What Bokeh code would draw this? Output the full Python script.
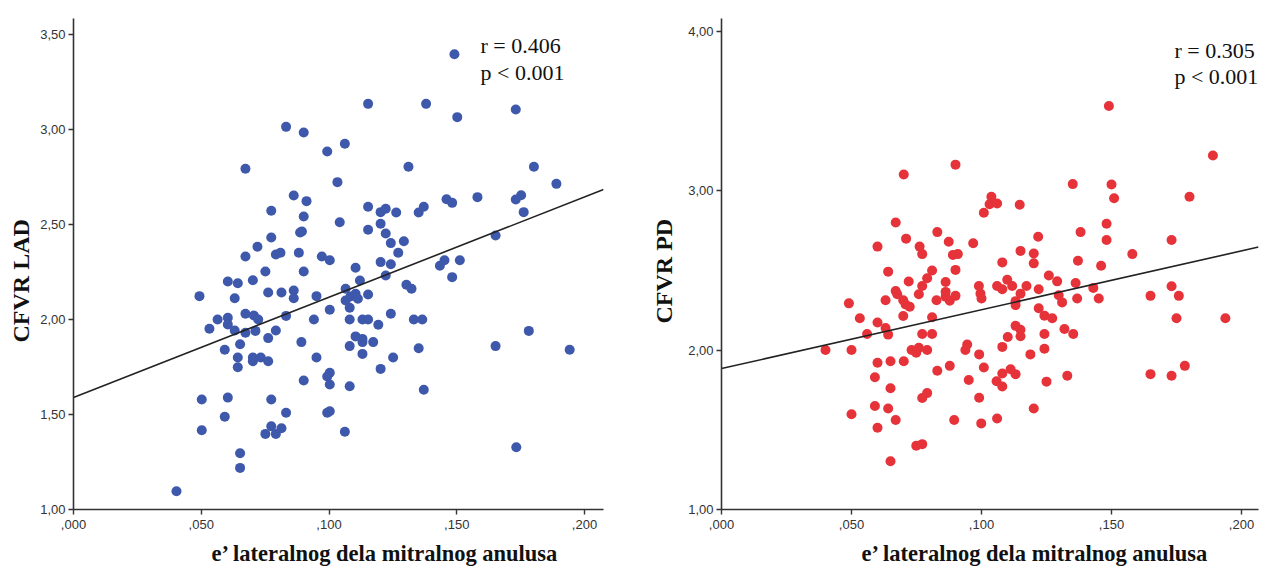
import math
from bokeh.plotting import figure
from bokeh.layouts import row, column
from bokeh.models import Range1d, FixedTicker, CustomJSTickFormatter, Label, Title
from bokeh.core.properties import value
from bokeh.embed import file_html
from bokeh.resources import INLINE

# ---------------- data ----------------
lad_x = [0.0832, 0.0901, 0.0673, 0.0862, 0.0912, 0.0774, 0.0901, 0.0774, 0.0887, 0.0894,
         0.0720, 0.0673, 0.0792, 0.0810, 0.0882, 0.0972, 0.0751, 0.0901, 0.0604, 0.0643,
         0.0702, 0.0493, 0.0631, 0.0762, 0.0814, 0.0862, 0.0862, 0.0951, 0.0564, 0.0604,
         0.0604, 0.0532, 0.0673, 0.0706, 0.0723, 0.0631, 0.0673, 0.0712, 0.0832, 0.0941,
         0.0792, 0.0762, 0.0652, 0.0892, 0.0592, 0.0643, 0.0643, 0.0702, 0.0702, 0.0733,
         0.0762, 0.0951, 0.0901, 0.0502, 0.0604, 0.0774, 0.0592, 0.0832, 0.0502, 0.0751,
         0.0774, 0.0792, 0.0814, 0.0652, 0.0652, 0.0403, 0.1491, 0.1153, 0.1380, 0.1731,
         0.1502, 0.0993, 0.1062, 0.1311, 0.1802, 0.1033, 0.1890, 0.1153, 0.1202, 0.1222,
         0.1263, 0.1351, 0.1371, 0.1460, 0.1482, 0.1581, 0.1731, 0.1752, 0.1762, 0.1042,
         0.1202, 0.1153, 0.1222, 0.1242, 0.1293, 0.1271, 0.1652, 0.1003, 0.1104, 0.1202,
         0.1242, 0.1121, 0.1222, 0.1434, 0.1452, 0.1512, 0.1482, 0.1065, 0.1303, 0.1323,
         0.1065, 0.1084, 0.1104, 0.1113, 0.1153, 0.1081, 0.1003, 0.1081, 0.1131, 0.1153,
         0.1193, 0.1242, 0.1332, 0.1365, 0.1104, 0.1131, 0.1131, 0.1173, 0.1081, 0.1131,
         0.1251, 0.1351, 0.1202, 0.1003, 0.0993, 0.1003, 0.1081, 0.1371, 0.0993, 0.1003,
         0.1062, 0.1652, 0.1782, 0.1942, 0.1733]
lad_y = [3.014, 2.984, 2.793, 2.653, 2.623, 2.572, 2.542, 2.432, 2.458, 2.463,
         2.383, 2.332, 2.342, 2.351, 2.351, 2.332, 2.253, 2.253, 2.200, 2.191,
         2.207, 2.123, 2.112, 2.142, 2.142, 2.153, 2.112, 2.123, 2.000, 2.009,
         1.974, 1.951, 2.030, 2.021, 2.000, 1.942, 1.930, 1.940, 2.019, 2.000,
         1.942, 1.902, 1.870, 1.881, 1.841, 1.800, 1.749, 1.800, 1.780, 1.800,
         1.780, 1.800, 1.679, 1.579, 1.589, 1.579, 1.488, 1.509, 1.417, 1.398,
         1.438, 1.398, 1.428, 1.296, 1.219, 1.096, 3.396, 3.135, 3.135, 3.105,
         3.065, 2.884, 2.925, 2.804, 2.804, 2.723, 2.714, 2.593, 2.565, 2.583,
         2.563, 2.563, 2.593, 2.633, 2.614, 2.644, 2.632, 2.654, 2.565, 2.512,
         2.504, 2.472, 2.453, 2.402, 2.412, 2.351, 2.442, 2.312, 2.272, 2.302,
         2.291, 2.205, 2.232, 2.283, 2.312, 2.312, 2.223, 2.162, 2.183, 2.162,
         2.100, 2.121, 2.135, 2.109, 2.132, 2.062, 2.051, 2.000, 2.000, 2.000,
         1.972, 2.030, 2.000, 2.000, 1.911, 1.898, 1.881, 1.881, 1.860, 1.819,
         1.800, 1.849, 1.740, 1.720, 1.700, 1.658, 1.649, 1.630, 1.509, 1.517,
         1.409, 1.860, 1.940, 1.841, 1.328]

pd_x = [0.0701, 0.0670, 0.0830, 0.0710, 0.0874, 0.0600, 0.0762, 0.0772, 0.0890, 0.0909,
        0.0641, 0.0810, 0.0791, 0.0720, 0.0862, 0.0670, 0.0676, 0.0772, 0.0759, 0.0631,
        0.0699, 0.0708, 0.0724, 0.0490, 0.0827, 0.0862, 0.0862, 0.0878, 0.0532, 0.0699,
        0.0810, 0.0600, 0.0631, 0.0641, 0.0560, 0.0772, 0.0810, 0.0400, 0.0500, 0.0731,
        0.0749, 0.0759, 0.0791, 0.0600, 0.0650, 0.0701, 0.0830, 0.0878, 0.0590, 0.0650,
        0.0772, 0.0791, 0.0590, 0.0641, 0.0500, 0.0670, 0.0600, 0.0749, 0.0772, 0.0650,
        0.0895, 0.1490, 0.1890, 0.0900, 0.1351, 0.1500, 0.1510, 0.1800, 0.1038, 0.1031,
        0.1060, 0.1009, 0.1147, 0.1481, 0.1381, 0.1218, 0.1481, 0.1731, 0.0968, 0.1150,
        0.1201, 0.1201, 0.1080, 0.1371, 0.1460, 0.1580, 0.0900, 0.1259, 0.1291, 0.1362,
        0.1099, 0.1731, 0.0900, 0.0990, 0.0996, 0.1000, 0.1060, 0.1080, 0.1118, 0.1150,
        0.1131, 0.1131, 0.1173, 0.1220, 0.1220, 0.1297, 0.1310, 0.1242, 0.1272, 0.1368,
        0.1430, 0.1451, 0.1650, 0.1759, 0.1750, 0.1938, 0.1131, 0.1150, 0.1150, 0.1101,
        0.1242, 0.1319, 0.1353, 0.0945, 0.0938, 0.0991, 0.1080, 0.1188, 0.1242, 0.1009,
        0.0951, 0.1058, 0.1080, 0.1080, 0.1112, 0.1131, 0.1250, 0.1330, 0.1650, 0.1731,
        0.1782, 0.0991, 0.1201, 0.0999, 0.1060]
pd_y = [3.101, 2.800, 2.740, 2.699, 2.680, 2.649, 2.649, 2.602, 2.597, 2.602,
        2.492, 2.499, 2.451, 2.430, 2.427, 2.371, 2.350, 2.402, 2.350, 2.313,
        2.313, 2.286, 2.272, 2.293, 2.313, 2.365, 2.334, 2.309, 2.200, 2.214,
        2.206, 2.173, 2.138, 2.097, 2.101, 2.101, 2.101, 2.000, 2.000, 2.000,
        1.983, 2.014, 2.000, 1.921, 1.930, 1.930, 1.870, 1.901, 1.829, 1.761,
        1.699, 1.730, 1.649, 1.633, 1.598, 1.561, 1.513, 1.400, 1.410, 1.303,
        1.561, 3.531, 3.220, 3.163, 3.041, 3.039, 2.952, 2.962, 2.962, 2.915,
        2.919, 2.861, 2.911, 2.792, 2.740, 2.711, 2.690, 2.690, 2.670, 2.622,
        2.606, 2.544, 2.550, 2.560, 2.529, 2.602, 2.503, 2.468, 2.431, 2.421,
        2.441, 2.400, 2.340, 2.402, 2.354, 2.323, 2.402, 2.381, 2.402, 2.354,
        2.307, 2.282, 2.402, 2.381, 2.262, 2.344, 2.299, 2.216, 2.200, 2.323,
        2.390, 2.323, 2.340, 2.340, 2.200, 2.200, 2.152, 2.127, 2.087, 2.082,
        2.101, 2.132, 2.101, 2.035, 2.000, 1.973, 2.020, 1.973, 2.008, 1.891,
        1.812, 1.804, 1.771, 1.853, 1.880, 1.849, 1.802, 1.839, 1.849, 1.839,
        1.901, 1.701, 1.633, 1.540, 1.571]

# regression lines (intercept, slope)
lad_fit = (1.589, 5.28)
pd_fit = (1.884, 3.69)

x_ticks = [0.0, 0.05, 0.10, 0.15, 0.20]
lad_y_ticks = [1.0, 1.5, 2.0, 2.5, 3.0, 3.5]
pd_y_ticks = [1.0, 2.0, 3.0, 4.0]

lad_stats = ["r = 0.406", "p < 0.001"]
pd_stats = ["r = 0.305", "p < 0.001"]
x_title = "e\u2019 lateralnog dela mitralnog anulusa"
lad_title = "CFVR  LAD"
pd_title = "CFVR  PD"

# ---------------- styling ----------------
SERIF = "Liberation Serif"
SANS = "Liberation Sans"
X_FMT = CustomJSTickFormatter(code="return ',' + String(Math.round(tick*1000)).padStart(3,'0');")
Y_FMT = CustomJSTickFormatter(code="return tick.toFixed(2).replace('.', ',');")

PLOT_H = 537
STRIP_H = 32


def make_panel(xs, ys, fit, yticks, stats, ytitle, color, width,
               bl, br, bt, bb, xmax, ymax, stat_pos, ytitle_cfg):
    p = figure(width=width, height=PLOT_H, output_backend="svg", toolbar_location=None,
               x_range=Range1d(0, xmax), y_range=Range1d(1.0, ymax),
               min_border_left=bl, min_border_right=br, min_border_top=bt,
               min_border_bottom=bb)
    p.outline_line_color = None
    p.grid.visible = False
    p.background_fill_color = "white"
    p.border_fill_color = "white"
    for ax in (p.xaxis[0], p.yaxis[0]):
        ax.axis_line_color = "#333333"
        ax.axis_line_width = 1.6
        ax.major_tick_line_color = "#333333"
        ax.major_tick_line_width = 1.4
        ax.major_tick_out = 5
        ax.major_tick_in = 0
        ax.minor_tick_line_color = None
        ax.major_label_text_font = SANS
        ax.major_label_text_font_size = "13px"
        ax.major_label_text_color = "#333333"
    p.xaxis[0].ticker = FixedTicker(ticks=x_ticks)
    p.xaxis[0].formatter = X_FMT
    p.xaxis[0].major_label_standoff = 5
    p.yaxis[0].ticker = FixedTicker(ticks=yticks)
    p.yaxis[0].formatter = Y_FMT
    p.yaxis[0].major_label_standoff = 3

    p.scatter(xs, ys, size=10, fill_color=color, line_color=None)
    a, b = fit
    p.line([0, xmax], [a, a + b * xmax], line_color="#222222", line_width=1.6)

    sx, sy1, sy2 = stat_pos
    for txt, yy in zip(stats, (sy1, sy2)):
        p.add_layout(Label(x=sx, y=yy, text=txt, text_font=SERIF, text_font_size="22px",
                           text_color="#111111", text_align="left", text_baseline="middle"))

    off, so = ytitle_cfg
    p.add_layout(Title(text=ytitle, align="left", offset=off, standoff=so,
                       vertical_align="middle", text_font=SERIF, text_font_style="bold",
                       text_font_size="24px", text_color="#111111"), "left")
    return p


# left panel: frame x 73..603, y 18..509 ; right panel: frame x 721..1258, y 11..509
p1 = make_panel(lad_x, lad_y, lad_fit, lad_y_ticks, lad_stats, lad_title, "#3e58ab",
                628, 73, 25, 18, PLOT_H - 509, 530 / 2555, 1 + 491 / 190,
                (0.1593, 3.442, 3.300), (167, 6))
p2 = make_panel(pd_x, pd_y, pd_fit, pd_y_ticks, pd_stats, pd_title, "#e6333a",
                636, 93, 6, 11, PLOT_H - 509, 537 / 2600, 1 + 498 / 161.7,
                (0.1742, 3.882, 3.715), (186, 16))

# strip under both panels carrying the x-axis titles (pixel-scaled ranges)
strip = figure(width=1264, height=STRIP_H, output_backend="svg", toolbar_location=None,
               x_range=Range1d(0, 1264), y_range=Range1d(0, STRIP_H),
               x_axis_type=None, y_axis_type=None, min_border=0)
strip.outline_line_color = None
strip.grid.visible = False
strip.text(x=[211, 861], y=[16, 16], text=[x_title, x_title], text_font=value(SERIF),
           text_font_style="bold", text_font_size="22.5px", text_color="#111111",
           text_align="left", text_baseline="middle")

layout = column(row(p1, p2), strip)
open("out.html", "w").write(file_html(layout, INLINE))
